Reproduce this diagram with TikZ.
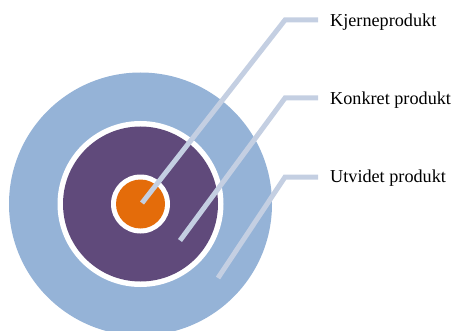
\documentclass[tikz,border=0pt]{standalone}
\usepackage{fontspec}
\setmainfont{Liberation Serif}
\definecolor{outerc}{RGB}{149,179,215}
\definecolor{midc}{RGB}{96,74,123}
\definecolor{corec}{RGB}{228,108,10}
\definecolor{leadc}{RGB}{196,207,226}
\begin{document}
\begin{tikzpicture}[x=1pt,y=-1pt,
  ring/.style={circle,inner sep=0pt,minimum size=#1},
  lead/.style={draw=leadc,line width=5pt},
  lbl/.style={anchor=base west,inner sep=0pt,font=\fontsize{18.2}{20}\selectfont}]
\useasboundingbox (0,0) rectangle (454,331);
\begin{scope}
\clip (0,0) rectangle (454,331);
\node[ring=263pt,fill=outerc] (outer) at (140.5,204) {};
\node[ring=166pt,fill=white] (midw) at (140.5,204) {};
\node[ring=155pt,fill=midc] (mid) at (140.5,204) {};
\node[ring=59pt,fill=white] (corew) at (140.5,204) {};
\node[ring=49pt,fill=corec] (core) at (140.5,204) {};
\end{scope}
\coordinate (s1) at (142,203);
\coordinate (s2) at (180,240.5);
\coordinate (s3) at (218,278);
\coordinate (c1) at (285,20);
\coordinate (c2) at (285,98);
\coordinate (c3) at (285,177);
\coordinate (e1) at (318,20);
\coordinate (e2) at (318,98);
\coordinate (e3) at (318,177);
\draw[lead] (s1) -- (c1) -- (e1);
\draw[lead] (s2) -- (c2) -- (e2);
\draw[lead] (s3) -- (c3) -- (e3);
\node[lbl] (t1) at (330,26.5) {Kjerneprodukt};
\node[lbl] (t2) at (330,105) {Konkret produkt};
\node[lbl] (t3) at (330,182.5) {Utvidet produkt};
\end{tikzpicture}
\end{document}
